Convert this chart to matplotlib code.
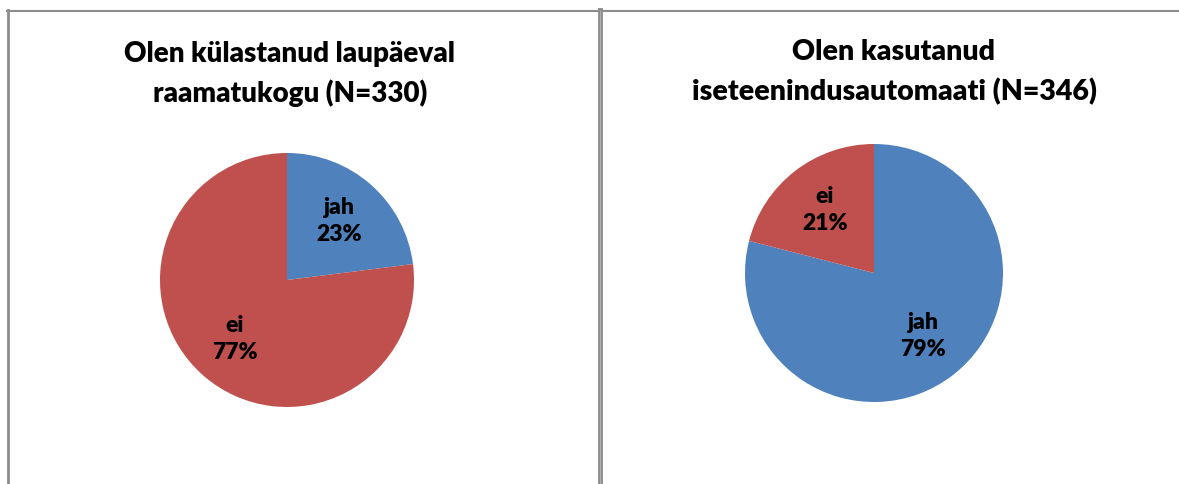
import matplotlib
matplotlib.use('Agg')
import matplotlib.pyplot as plt
from matplotlib.lines import Line2D

plt.rcParams['font.family'] = ['Lato', 'DejaVu Sans']

# data
titles = ['Olen külastanud laupäeval\nraamatukogu (N=330)',
          'Olen kasutanud\niseteenindusautomaati (N=346)']
left_labels = ['jah', 'ei']
left_values = [23, 77]
right_labels = ['jah', 'ei']
right_values = [79, 21]

BLUE = '#4F81BD'
RED = '#C0504D'
GRID = '#8c8c8c'

W, H = 1179, 484
fig = plt.figure(figsize=(W / 100, H / 100), dpi=100)


def draw_pie(cx, cy, r, labels, values):
    # cx, cy, r in pixels (y from top)
    ax = fig.add_axes([(cx - r) / W, (H - cy - r) / H, 2 * r / W, 2 * r / H])
    it = iter(labels)

    def fmt(pct):
        return '{}\n{:.0f}%'.format(next(it), pct)

    ax.pie(values, colors=[BLUE, RED], startangle=90, counterclock=False,
           autopct=fmt, pctdistance=0.62,
           textprops=dict(fontsize=16.5, fontweight='heavy', color='black',
                          linespacing=1.35))
    ax.set_xlim(-1, 1)
    ax.set_ylim(-1, 1)
    ax.set_aspect('equal')
    return ax


draw_pie(287, 280, 127, left_labels, left_values)
draw_pie(874, 273, 129, right_labels, right_values)

fig.text(290 / W, 1 - 74 / H, titles[0], ha='center', va='center',
         fontsize=20, fontweight='heavy', linespacing=1.55)
fig.text(894 / W, 1 - 72 / H, titles[1], ha='center', va='center',
         fontsize=20.5, fontweight='heavy', linespacing=1.55)

# chart borders
fig.add_artist(Line2D([7 / W, 1], [1 - 10.5 / H] * 2, color=GRID, lw=1.5))
fig.add_artist(Line2D([8 / W] * 2, [0, 1 - 10 / H], color=GRID, lw=2))
fig.add_artist(Line2D([599.5 / W] * 2, [0, 1 - 10 / H], color=GRID, lw=3.5))
fig.add_artist(Line2D([599.5 / W] * 2, [0, 1 - 11 / H], color='#b0b0b0', lw=0.8))

fig.savefig('out.png', dpi=100)
